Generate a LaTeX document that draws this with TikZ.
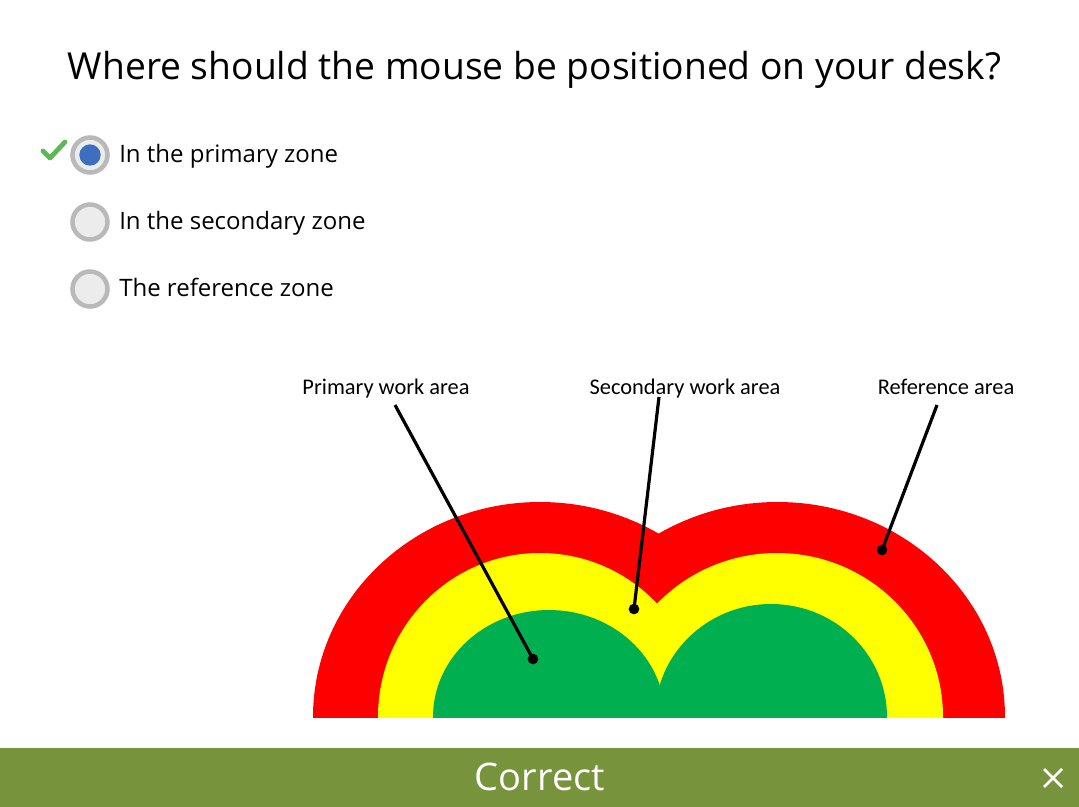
\documentclass[tikz,border=0pt]{standalone}
\usepackage{fontspec}
\setmainfont{Open Sans}
\newfontfamily\calloutfont{Carlito}
\usetikzlibrary{positioning}
\definecolor{zonered}{RGB}{255,0,0}
\definecolor{zoneyellow}{RGB}{255,255,0}
\definecolor{zonegreen}{RGB}{0,176,80}
\definecolor{bargreen}{RGB}{119,147,60}
\definecolor{ringgray}{RGB}{185,185,185}
\definecolor{radiofill}{RGB}{236,236,236}
\definecolor{radioblue}{RGB}{62,110,190}
\definecolor{tickgreen}{RGB}{92,184,84}
\tikzset{
    question text/.style={font=\fontsize{27.9}{33}\selectfont, anchor=base, inner sep=0pt},
    option text/.style={font=\fontsize{18}{21}\selectfont, anchor=base west, inner sep=0pt},
    radio ring/.style={circle, draw=ringgray, line width=3.4pt, fill=radiofill,
        minimum size=26.25pt, inner sep=0pt},
    radio dot/.style={circle, fill=radioblue, minimum size=16pt, inner sep=0pt},
    tick mark/.style={line width=3.6pt, tickgreen, line cap=round, line join=round},
    callout text/.style={font=\calloutfont\fontsize{16.8}{20}\selectfont, anchor=base, inner sep=0pt},
    leader line/.style={line width=2.4pt, black},
    leader dot/.style={circle, fill=black, minimum size=8pt, inner sep=0pt},
    bar text/.style={font=\fontsize{28.5}{34}\selectfont, text=white, anchor=base, inner sep=0pt},
    close cross/.style={line width=2pt, white}
}
\newcommand{\Option}[3]{%
\node[radio ring] (#1 radio) at (90,#2) {};
\node[option text] (#1 text) at (119,{#2+7}) {#3};
}

\begin{document}
\begin{tikzpicture}[x=0.75pt,y=-0.75pt]
    \useasboundingbox (0,0) rectangle (1079,807);

    \node[question text] (question) at (534.5,79)
        {Where should the mouse be positioned on your desk?};

    \Option{primary}{155}{In the primary zone}
    \Option{secondary}{222}{In the secondary zone}
    \Option{reference}{289}{The reference zone}
    \node[radio dot] (primary choice) at (primary radio) {};
    \draw[tick mark] (43,151) -- (50,158) -- (65,142);

    % zones
    \begin{scope}
        \clip (300,480) rectangle (1020,717);
        \fill[zonered] (540,717) ellipse [x radius=227, y radius=215];
        \fill[zonered] (777.5,717) ellipse [x radius=227.5, y radius=215];
        \fill[zoneyellow] (540,717) ellipse [x radius=162, y radius=164];
        \fill[zoneyellow] (777,717) ellipse [x radius=166, y radius=164];
        \fill[zonegreen] (549,717) ellipse [x radius=116, y radius=107];
        \fill[zonegreen] (771,717) ellipse [x radius=116, y radius=113];
    \end{scope}

    \node[callout text] (primary label) at (386,394) {Primary work area};
    \node[callout text] (secondary label) at (685,394) {Secondary work area};
    \node[callout text] (reference label) at (946,394) {Reference area};
    \coordinate (primary start) at (395,405);
    \coordinate (secondary start) at (659,397);
    \coordinate (reference start) at (937,405);
    \node[leader dot] (primary dot) at (533,659) {};
    \node[leader dot] (secondary dot) at (634,609) {};
    \node[leader dot] (reference dot) at (882,550) {};
    \draw[leader line] (primary start) -- (primary dot.center);
    \draw[leader line] (secondary start) -- (secondary dot.center);
    \draw[leader line] (reference start) -- (reference dot.center);

    \fill[bargreen] (0,748) rectangle (1079,807);
    \node[bar text] (verdict) at (540,790) {Correct};
    \coordinate (close nw) at (1044,769);
    \coordinate (close se) at (1062,787);
    \coordinate (close sw) at (1044,787);
    \coordinate (close ne) at (1062,769);
    \draw[close cross] (close nw) -- (close se) (close sw) -- (close ne);
\end{tikzpicture}
\end{document}
